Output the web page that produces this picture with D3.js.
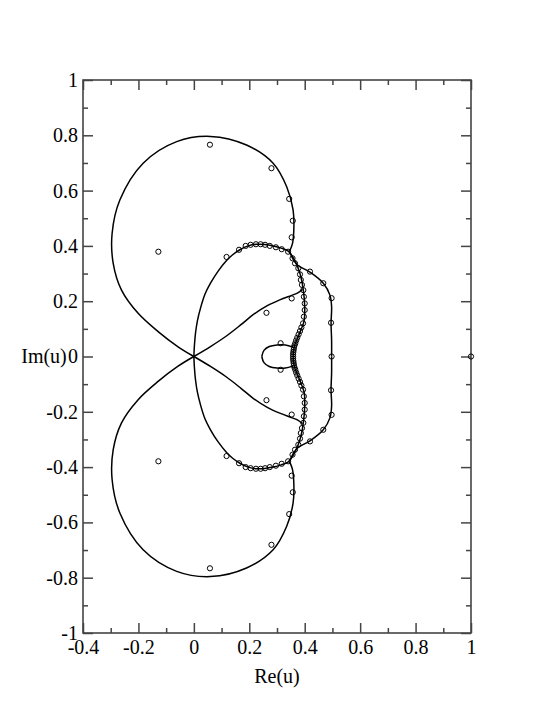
<!DOCTYPE html>
<html>
<head>
<meta charset="utf-8">
<script src="https://cdn.jsdelivr.net/npm/d3@7"></script>
<style>
  body { margin: 0; background: #fff; }
  svg text { font-family: "Liberation Serif", "DejaVu Serif", serif; }
</style>
</head>
<body>
<div id="container"></div>
<script>
// chart size
let width = 554;
let height = 717;
let margin = { top: 80, right: 83, bottom: 84, left: 83 };

// ticks
let xTicks = [-0.4, -0.2, 0, 0.2, 0.4, 0.6, 0.8, 1];
let xTickLabels = ["-0.4", "-0.2", "0", "0.2", "0.4", "0.6", "0.8", "1"];
let xMinor = [-0.3, -0.1, 0.1, 0.3, 0.5, 0.7, 0.9];
let yTicks = [-1, -0.8, -0.6, -0.4, -0.2, 0, 0.2, 0.4, 0.6, 0.8, 1];
let yTickLabels = ["-1", "-0.8", "-0.6", "-0.4", "-0.2", "0", "0.2", "0.4", "0.6", "0.8", "1"];
let yMinor = [-0.9, -0.7, -0.5, -0.3, -0.1, 0.1, 0.3, 0.5, 0.7, 0.9];

// curves, upper half only (Im >= 0); the picture is mirrored in the real axis
let outerLobe = [
  [0, 0], [-0.057, 0.035], [-0.129, 0.09], [-0.201, 0.156], [-0.261, 0.24],
  [-0.291, 0.337], [-0.295, 0.445], [-0.267, 0.566], [-0.183, 0.699],
  [-0.062, 0.777], [0.06, 0.796], [0.19, 0.765], [0.286, 0.699],
  [0.335, 0.614], [0.358, 0.53], [0.361, 0.469], [0.356, 0.409], [0.345, 0.38]
];
let rightBranch = [
  [0.345, 0.38], [0.358, 0.352], [0.375, 0.33], [0.419, 0.305], [0.467, 0.265],
  [0.491, 0.222], [0.497, 0.18], [0.495, 0.12], [0.497, 0.06], [0.497, 0]
];
let arch = [
  [0, 0], [0.002, 0.04], [0.006, 0.085], [0.013, 0.13], [0.024, 0.175],
  [0.04, 0.225], [0.06, 0.265], [0.087, 0.308], [0.118, 0.347], [0.14, 0.368],
  [0.166, 0.386], [0.196, 0.4], [0.226, 0.406], [0.256, 0.405], [0.286, 0.4],
  [0.315, 0.392], [0.341, 0.381],
  [0.365, 0.345], [0.383, 0.3], [0.395, 0.24], [0.4, 0.18], [0.398, 0.13],
  [0.388, 0.1], [0.374, 0.066], [0.362, 0.035], [0.358, 0]
];
let inner = [
  [0, 0], [0.06, 0.036], [0.12, 0.076], [0.17, 0.115], [0.215, 0.152],
  [0.265, 0.184], [0.31, 0.205], [0.355, 0.222], [0.375, 0.23], [0.392, 0.243]
];
let smallLoop = [
  [0.358, 0.034], [0.33, 0.042], [0.3, 0.042], [0.272, 0.036], [0.253, 0.022], [0.245, 0]
];

// open circles, upper half
let rootsUpper = [
  [0.058, 0.766], [0.28, 0.681], [0.344, 0.57], [0.357, 0.491], [0.353, 0.431], [-0.128, 0.379],
  [0.118, 0.36], [0.163, 0.386], [0.187, 0.4], [0.205, 0.404], [0.224, 0.406], [0.241, 0.406],
  [0.257, 0.404], [0.274, 0.4], [0.296, 0.395], [0.317, 0.388], [0.34, 0.379],
  [0.356, 0.355], [0.365, 0.337], [0.377, 0.319], [0.383, 0.297], [0.386, 0.277], [0.39, 0.259],
  [0.395, 0.24], [0.397, 0.216], [0.4, 0.192], [0.4, 0.168], [0.397, 0.144], [0.394, 0.12],
  [0.388, 0.105], [0.383, 0.092], [0.378, 0.08], [0.373, 0.068], [0.369, 0.058], [0.366, 0.048],
  [0.363, 0.04], [0.361, 0.032], [0.36, 0.024], [0.359, 0.016], [0.358, 0.008],
  [0.419, 0.307], [0.467, 0.265], [0.497, 0.211], [0.495, 0.122],
  [0.353, 0.21], [0.262, 0.158], [0.313, 0.048]
];
// open circles on the real axis
let rootsAxis = [[0.358, 0], [0.497, 0], [1, 0]];

function mirror(pts) {
  return pts.map((p) => [p[0], -p[1]]);
}

function main() {
  let svg = d3
    .select("#container")
    .append("svg")
    .attr("width", width)
    .attr("height", height)
    .style("display", "block");

  let x = d3.scaleLinear().domain([-0.4, 1]).range([margin.left, width - margin.right]);
  let y = d3.scaleLinear().domain([-1, 1]).range([height - margin.bottom, margin.top]);

  let axisColor = "#444";

  // ticks, all pointing into the plot
  function styleAxis(g) {
    g.attr("font-family", null).attr("font-size", null);
    g.select(".domain").remove();
    g.selectAll(".tick line").attr("stroke", axisColor).attr("stroke-width", 1.5);
    g.selectAll(".tick text")
      .attr("fill", "#000")
      .style("font-size", "20px")
      .style("font-family", '"Liberation Serif", "DejaVu Serif", serif');
  }

  let bottom = height - margin.bottom;
  let right = width - margin.right;

  svg.append("g").attr("transform", `translate(0,${bottom})`)
    .call(d3.axisBottom(x).tickValues(xTicks).tickFormat((d, i) => xTickLabels[i]).tickSize(-10).tickPadding(7))
    .call(styleAxis);
  svg.append("g").attr("transform", `translate(0,${bottom})`)
    .call(d3.axisBottom(x).tickValues(xMinor).tickFormat("").tickSize(-5))
    .call(styleAxis);
  svg.append("g").attr("transform", `translate(0,${margin.top})`)
    .call(d3.axisTop(x).tickValues(xTicks).tickFormat("").tickSize(-10))
    .call(styleAxis);
  svg.append("g").attr("transform", `translate(0,${margin.top})`)
    .call(d3.axisTop(x).tickValues(xMinor).tickFormat("").tickSize(-5))
    .call(styleAxis);

  svg.append("g").attr("transform", `translate(${margin.left},0)`)
    .call(d3.axisLeft(y).tickValues(yTicks).tickFormat((d, i) => yTickLabels[i]).tickSize(-10).tickPadding(5))
    .call(styleAxis);
  svg.append("g").attr("transform", `translate(${margin.left},0)`)
    .call(d3.axisLeft(y).tickValues(yMinor).tickFormat("").tickSize(-5))
    .call(styleAxis);
  svg.append("g").attr("transform", `translate(${right},0)`)
    .call(d3.axisRight(y).tickValues(yTicks).tickFormat("").tickSize(-10))
    .call(styleAxis);
  svg.append("g").attr("transform", `translate(${right},0)`)
    .call(d3.axisRight(y).tickValues(yMinor).tickFormat("").tickSize(-5))
    .call(styleAxis);

  // frame
  svg.append("rect")
    .attr("x", margin.left)
    .attr("y", margin.top)
    .attr("width", right - margin.left)
    .attr("height", bottom - margin.top)
    .attr("fill", "none")
    .attr("stroke", axisColor)
    .attr("stroke-width", 1.6);

  // curves
  let line = d3.line()
    .x((d) => x(d[0]))
    .y((d) => y(d[1]))
    .curve(d3.curveCatmullRom.alpha(0.5));

  let curves = [outerLobe, rightBranch, arch, inner, smallLoop];
  let paths = [];
  curves.forEach(function (c) {
    paths.push(c);
    paths.push(mirror(c));
  });

  svg.append("g")
    .selectAll("path")
    .data(paths)
    .join("path")
    .attr("d", line)
    .attr("fill", "none")
    .attr("stroke", "#000")
    .attr("stroke-width", 1.5);

  // open circles
  let roots = rootsUpper.concat(mirror(rootsUpper)).concat(rootsAxis);
  svg.append("g")
    .selectAll("circle")
    .data(roots)
    .join("circle")
    .attr("cx", (d) => x(d[0]))
    .attr("cy", (d) => y(d[1]))
    .attr("r", 2.6)
    .attr("fill", "none")
    .attr("stroke", "#000")
    .attr("stroke-width", 1);

  // axis titles
  svg.append("text")
    .attr("x", (margin.left + right) / 2)
    .attr("y", 683)
    .attr("text-anchor", "middle")
    .style("font-size", "20px")
    .text("Re(u)");
  svg.append("text")
    .attr("x", 44)
    .attr("y", y(0))
    .attr("dy", "0.32em")
    .attr("text-anchor", "middle")
    .style("font-size", "20px")
    .text("Im(u)");
}

main();
</script>
</body>
</html>
